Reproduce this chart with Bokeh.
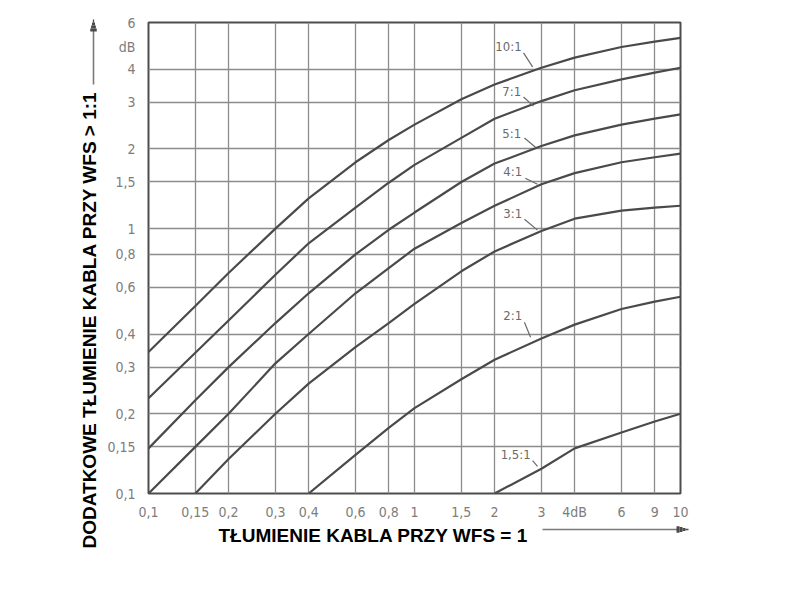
import math
from bokeh.plotting import figure
from bokeh.models import FixedTicker, Arrow, NormalHead, ColumnDataSource, Title
from bokeh.core.properties import value
from bokeh.embed import file_html
from bokeh.resources import INLINE

# ---------------- data ----------------
x_ticks = [0.1, 0.15, 0.2, 0.3, 0.4, 0.6, 0.8, 1, 1.5, 2, 3, 4, 6, 8, 10]
x_tick_labels = ["0,1", "0,15", "0,2", "0,3", "0,4", "0,6", "0,8", "1", "1,5", "2", "3", "4dB", "6", "9", "10"]
y_ticks = [0.1, 0.15, 0.2, 0.3, 0.4, 0.6, 0.8, 1, 1.5, 2, 3, 4, 6]
y_tick_labels = ["0,1", "0,15", "0,2", "0,3", "0,4", "0,6", "0,8", "1", "1,5", "2", "3", "4", "6"]
y_unit_pos = 4.83
y_unit_label = "dB"

x_full = [0.1, 0.15, 0.2, 0.3, 0.4, 0.6, 0.8, 1, 1.5, 2, 3, 4, 6, 8, 10]
swr_10 = [0.342, 0.51, 0.68, 1.0, 1.3, 1.78, 2.16, 2.47, 3.08, 3.5, 4.05, 4.42, 4.85, 5.08, 5.25]
swr_7 = [0.229, 0.34, 0.45, 0.67, 0.88, 1.2, 1.49, 1.74, 2.2, 2.6, 3.03, 3.33, 3.66, 3.88, 4.05]
swr_5 = [0.148, 0.225, 0.3, 0.44, 0.57, 0.8, 0.99, 1.15, 1.5, 1.76, 2.05, 2.25, 2.47, 2.6, 2.7]
swr_4 = [0.1, 0.15, 0.2, 0.31, 0.4, 0.57, 0.71, 0.84, 1.05, 1.22, 1.47, 1.62, 1.78, 1.86, 1.92]
x_3 = [0.15, 0.2, 0.3, 0.4, 0.6, 0.8, 1, 1.5, 2, 3, 4, 6, 8, 10]
swr_3 = [0.1, 0.135, 0.2, 0.26, 0.357, 0.44, 0.52, 0.69, 0.82, 0.98, 1.09, 1.17, 1.2, 1.22]
x_2 = [0.4, 0.6, 0.8, 1, 1.5, 2, 3, 4, 6, 8, 10]
swr_2 = [0.1, 0.14, 0.177, 0.21, 0.27, 0.32, 0.385, 0.434, 0.497, 0.53, 0.553]
x_15 = [2, 3, 4, 6, 8, 10]
swr_15 = [0.1, 0.124, 0.148, 0.17, 0.187, 0.2]

curve_names = ["10:1", "7:1", "5:1", "4:1", "3:1", "2:1", "1,5:1"]
label_x = [2.256, 2.32, 2.32, 2.34, 2.34, 2.34, 2.40]
label_y = [4.856, 3.28, 2.28, 1.64, 1.145, 0.471, 0.1404]
lead_x0 = [2.57, 2.57, 2.59, 2.61, 2.59, 2.59, 2.78]
lead_y0 = [4.61, 3.14, 2.20, 1.55, 1.085, 0.443, 0.133]
lead_x1 = [2.78, 2.80, 2.85, 2.90, 2.90, 2.73, 2.90]
lead_y1 = [4.08, 2.90, 2.03, 1.47, 0.987, 0.389, 0.1265]

x_title = "TŁUMIENIE KABLA PRZY WFS = 1"
y_title = "DODATKOWE TŁUMIENIE KABLA PRZY WFS > 1:1"

# ---------------- figure ----------------
X0, X1 = 0.1, 10
Y0, Y1 = 0.1, 6
FL, FT, FW, FH = 148, 22, 532, 471   # frame placement inside the canvas

p = figure(x_axis_type="log", y_axis_type="log",
           x_range=(X0, X1), y_range=(Y0, Y1),
           frame_width=FW, frame_height=FH,
           min_border_left=FL, min_border_top=FT, min_border_right=100, min_border_bottom=87,
           output_backend="svg", toolbar_location=None)

p.background_fill_color = "white"
p.border_fill_color = "white"
p.outline_line_color = "#4d4d4d"
p.outline_line_width = 2

tick_font = "DejaVu Sans Condensed"
tick_color = "#7d7d7d"

xa, ya = p.xaxis[0], p.yaxis[0]
xa.ticker = FixedTicker(ticks=x_ticks)
xa.major_label_overrides = {t: l for t, l in zip(x_ticks, x_tick_labels)}
ya.ticker = FixedTicker(ticks=y_ticks + [y_unit_pos])
ya.major_label_overrides = {**{t: l for t, l in zip(y_ticks, y_tick_labels)}, y_unit_pos: y_unit_label}
for ax in (xa, ya):
    ax.axis_line_color = None
    ax.major_tick_line_color = None
    ax.minor_tick_line_color = None
    ax.major_label_text_font = tick_font
    ax.major_label_text_font_size = "14px"
    ax.major_label_text_color = tick_color
xa.major_label_standoff = 4
ya.major_label_standoff = 7

p.xgrid.ticker = FixedTicker(ticks=x_ticks)
p.ygrid.ticker = FixedTicker(ticks=y_ticks)
for g in (p.xgrid[0], p.ygrid[0]):
    g.grid_line_color = "#8c8c8c"
    g.grid_line_width = 1.3
    g.grid_line_alpha = 1.0

curve_color = "#4a4a4a"
for xs, ys in ((x_full, swr_10), (x_full, swr_7), (x_full, swr_5), (x_full, swr_4),
               (x_3, swr_3), (x_2, swr_2), (x_15, swr_15)):
    p.line(xs, ys, line_color=curve_color, line_width=2.2)

src = ColumnDataSource(dict(x=label_x, y=label_y, t=curve_names,
                            x0=lead_x0, y0=lead_y0, x1=lead_x1, y1=lead_y1))
p.text(x="x", y="y", text="t", source=src, text_font=value(tick_font),
       text_font_size="13px", text_color="#6a6a6a", text_align="center", text_baseline="middle")
p.segment(x0="x0", y0="y0", x1="x1", y1="y1", source=src, line_color="#6a6a6a", line_width=1.2)

# ---- axis-direction arrows outside the frame (canvas units) ----
# Outside the frame an Arrow's shaft only shows inside its head's clip box, so
# every piece is a shaft covered by an invisible, large enough head box.
shaft_color = "#7a7a7a"
tip_color = "#4a4a4a"

def arrow_piece(x0, y0, x1, y1, width, color, box):
    p.add_layout(Arrow(x_start=x0, y_start=y0, x_end=x1, y_end=y1,
                       start_units="canvas", end_units="canvas",
                       line_color=color, line_width=width,
                       end=NormalHead(size=box, fill_alpha=0, line_alpha=0)))

def draw_arrow(xs, ys, xe, ye, head_len=12, head_w=7, steps=4):
    L = math.hypot(xe - xs, ye - ys)
    ux, uy = (xe - xs) / L, (ye - ys) / L
    bx, by = xe - ux * head_len, ye - uy * head_len
    arrow_piece(xs, ys, bx + ux, by + uy, 1.6, shaft_color, L + 4)
    seg = head_len / steps
    for k in range(steps):
        d0, d1 = k * seg, (k + 1) * seg
        w = head_w * (1 - (d0 + d1) / 2 / head_len) + 0.4
        arrow_piece(bx + ux * d0, by + uy * d0, bx + ux * d1, by + uy * d1, w, tip_color, head_len + 4)

draw_arrow(93, 84, 93, 19)       # beside the y title, pointing up
draw_arrow(542, 529, 688, 529)   # beside the x title, pointing right

# axis titles as side-panel titles
p.add_layout(Title(text=y_title, align="left", offset=-55, standoff=10,
                   text_font="Liberation Sans", text_font_style="bold",
                   text_font_size="19px", text_color="black"), "left")
p.add_layout(Title(text=x_title, align="left", offset=70, standoff=0,
                   text_font="Liberation Sans", text_font_style="bold",
                   text_font_size="19px", text_color="black"), "below")

open("out.html", "w").write(file_html(p, INLINE))
